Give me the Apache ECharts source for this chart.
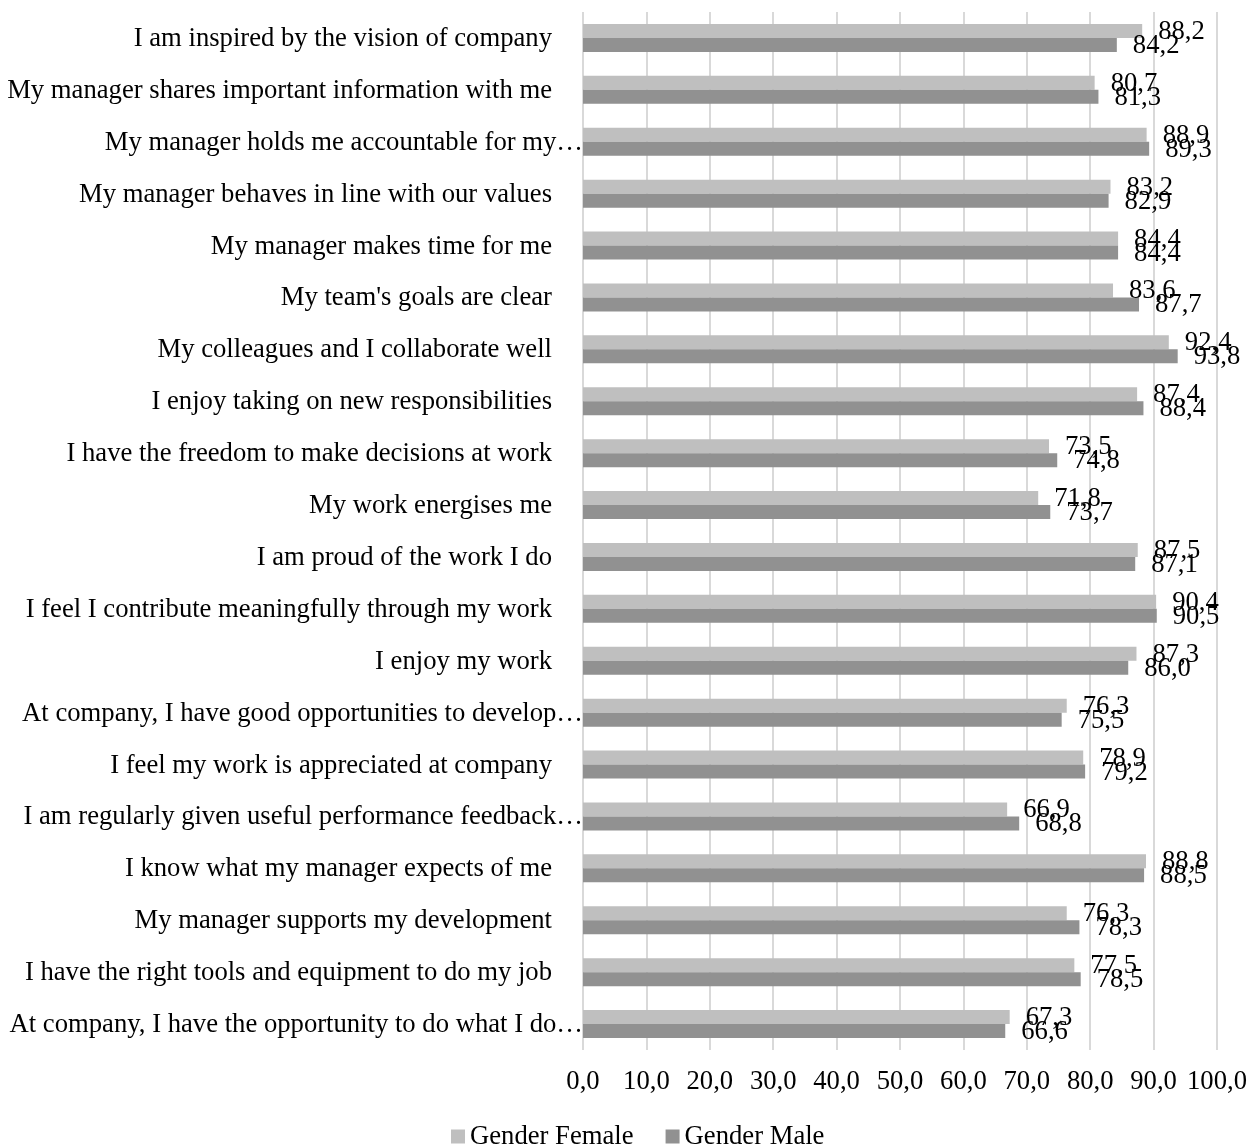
<!DOCTYPE html>
<html><head><meta charset="utf-8">
<script src="https://cdn.jsdelivr.net/npm/echarts@6/dist/echarts.min.js"></script>
<style>html,body{margin:0;padding:0;background:#fff}#c{width:1252px;height:1146px}</style>
</head><body><div id="c"></div>
<script>
const categories = [
  "I am inspired by the vision of company",
  "My manager shares important information with me",
  "My manager holds me accountable for my…",
  "My manager behaves in line with our values",
  "My manager makes time for me",
  "My team's goals are clear",
  "My colleagues and I collaborate well",
  "I enjoy taking on new responsibilities",
  "I have the freedom to make decisions at work",
  "My work energises me",
  "I am proud of the work I do",
  "I feel I contribute meaningfully through my work",
  "I enjoy my work",
  "At company, I have good opportunities to develop…",
  "I feel my work is appreciated at company",
  "I am regularly given useful performance feedback…",
  "I know what my manager expects of me",
  "My manager supports my development",
  "I have the right tools and equipment to do my job",
  "At company, I have the opportunity to do what I do…"
];
const female = [88.2,80.7,88.9,83.2,84.4,83.6,92.4,87.4,73.5,71.8,87.5,90.4,87.3,76.3,78.9,66.9,88.8,76.3,77.5,67.3];
const male   = [84.2,81.3,89.3,82.9,84.4,87.7,93.8,88.4,74.8,73.7,87.1,90.5,86.0,75.5,79.2,68.8,88.5,78.3,78.5,66.6];
const seriesNames = ["Gender Female","Gender Male"];

const FONT = "'Liberation Serif','Times New Roman',serif";
const FS = 26.67;
const fmt = v => v.toFixed(1).replace('.', ',');
const chart = echarts.init(document.getElementById('c'));
chart.setOption({
  animation: false,
  textStyle: {fontFamily: FONT},
  grid: {left: 583, right: 35, top: 12, bottom: 96, containLabel: false},
  legend: {
    bottom: -4, left: 451, padding: 0, itemWidth: 14, itemHeight: 14, itemGap: 32,
    icon: 'rect',
    textStyle: {fontFamily: FONT, fontSize: FS, color: '#000'},
    data: seriesNames
  },
  xAxis: {
    type: 'value', min: 0, max: 100, interval: 10,
    axisLine: {show: false}, axisTick: {show: false},
    splitLine: {lineStyle: {color: '#d9d9d9', width: 2}},
    axisLabel: {fontFamily: FONT, fontSize: FS, color: '#000', margin: 18, formatter: fmt}
  },
  yAxis: {
    type: 'category', data: categories, inverse: true,
    axisLine: {show: false}, axisTick: {show: false},
    axisLabel: {
      fontFamily: FONT, fontSize: FS, color: '#000', margin: 0,
      formatter: s => s.endsWith('…') ? '{t|' + s + '}' : '{n|' + s + '}',
      rich: {
        t: {fontFamily: FONT, fontSize: FS, color: '#000', padding: [2, 0, 0, 0]},
        n: {fontFamily: FONT, fontSize: FS, color: '#000', padding: [2, 31, 0, 0]}
      }
    }
  },
  series: [
    {name: seriesNames[0], type: 'bar', data: female, barGap: '0%', barCategoryGap: '46%',
     itemStyle: {color: '#bfbfbf'},
     label: {show: true, position: 'right', distance: 16, offset: [0, 1], fontFamily: FONT, fontSize: FS, color: '#000', formatter: p => fmt(p.value)}},
    {name: seriesNames[1], type: 'bar', data: male, barGap: '0%', barCategoryGap: '46%',
     itemStyle: {color: '#919191'},
     label: {show: true, position: 'right', distance: 16, offset: [0, 1], fontFamily: FONT, fontSize: FS, color: '#000', formatter: p => fmt(p.value)}}
  ]
});
</script></body></html>
